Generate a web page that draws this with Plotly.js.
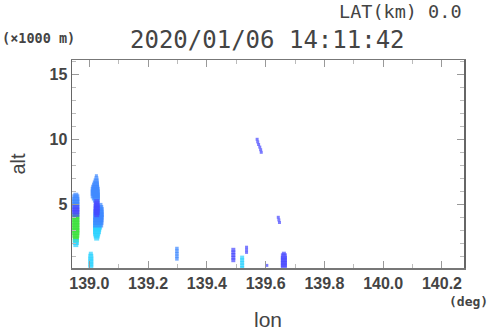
<!DOCTYPE html>
<html>
<head>
<meta charset="utf-8">
<script src="https://cdn.plot.ly/plotly-3.0.1.min.js"></script>
<style>html,body{margin:0;padding:0;background:#fff;}#chart{width:490px;height:331px;}</style>
</head>
<body>
<div id="chart"></div>
<script>
// Echo cells: longitude (deg), altitude (x1000 m), cell width (px)
const greenLon = [138.954, 138.954, 138.954, 138.954, 138.954, 138.954, 138.954, 138.954, 138.954, 138.954];
const greenAlt = [4.1, 3.9, 3.7, 3.5, 3.3, 3.1, 2.9, 2.7, 2.5, 2.3];
const greenSize = [7, 7, 7, 7, 7, 7, 7, 7, 6, 6];

const cyanLon = [138.954, 138.954,
  139.028, 139.027, 139.026, 139.025, 139.025, 139.025,
  139.005, 139.005, 139.005, 139.005, 139.005, 139.005,
  139.520, 139.520, 139.520, 139.520, 139.520];
const cyanAlt = [2.1, 1.9,
  3.4, 3.2, 3.0, 2.8, 2.6, 2.4,
  0.2, 0.4, 0.6, 0.8, 1.0, 1.2,
  0.1, 0.3, 0.5, 0.7, 0.9];
const cyanSize = [6, 5,
  9, 8, 8, 7, 6, 5,
  5, 5, 5, 5, 5, 4,
  4, 4, 4, 4, 4];

const midLon = [138.954, 138.954, 138.954, 138.954, 138.954,
  139.024, 139.024, 139.023, 139.022, 139.021, 139.020, 139.020, 139.020, 139.022, 139.024,
  139.031, 139.032, 139.032, 139.031,
  139.031, 139.031, 139.030,
  139.298, 139.298, 139.298, 139.298, 139.298];
const midAlt = [5.7, 5.5, 5.3, 5.1, 4.9,
  7.2, 7.0, 6.8, 6.6, 6.4, 6.2, 6.0, 5.8, 5.6, 5.4,
  4.8, 4.6, 4.4, 4.2,
  4.0, 3.8, 3.6,
  0.8, 1.0, 1.2, 1.4, 1.6];
const midSize = [5, 7, 7, 7, 7,
  3, 4, 5, 6, 7, 8, 9, 9, 8, 7,
  8, 9, 10, 10,
  10, 10, 10,
  3.5, 3.5, 3.5, 3.5, 3.5];

const blueLon = [138.954, 138.954, 138.954,
  139.025, 139.025, 139.025, 139.025, 139.025, 139.025,
  139.490, 139.490, 139.490, 139.490, 139.490,
  139.535, 139.535, 139.535,
  139.604,
  139.662, 139.662, 139.662, 139.662, 139.662, 139.662,
  139.571, 139.573, 139.576, 139.580, 139.583, 139.585,
  139.643, 139.645, 139.647];
const blueAlt = [4.7, 4.5, 4.3,
  5.2, 5.0, 4.8, 4.6, 4.4, 4.2,
  0.7, 0.9, 1.1, 1.3, 1.5,
  1.3, 1.5, 1.7,
  0.3,
  0.2, 0.4, 0.6, 0.8, 1.0, 1.2,
  10.0, 9.8, 9.6, 9.4, 9.2, 9.0,
  4.0, 3.8, 3.6];
const blueSize = [7, 7, 7,
  5, 6, 6, 6, 6, 5,
  4, 4, 4, 4, 4,
  3, 3, 3,
  3,
  6, 6, 6, 6, 6, 4,
  3, 3, 3, 3, 3, 3,
  3, 3, 3];

const xTickVals = [139.0, 139.2, 139.4, 139.6, 139.8, 140.0, 140.2];
const yTickVals = [5, 10, 15];

const titleText = "2020/01/06 14:11:42";
const latText = "LAT(km) 0.0";
const yUnitText = "(×1000 m)";
const xUnitText = "(deg)";

function tr(lon, alt, size, color) {
  return {type: 'scatter', mode: 'markers', x: lon, y: alt, hoverinfo: 'skip',
    marker: {symbol: 'square', size: size, color: color, line: {width: 0}}};
}
const data = [
  tr(greenLon, greenAlt, greenSize, 'rgb(60,225,60)'),
  tr(cyanLon, cyanAlt, cyanSize, 'rgb(40,210,255)'),
  tr(midLon, midAlt, midSize, 'rgb(60,135,255)'),
  tr(blueLon, blueAlt, blueSize, 'rgb(70,70,255)')
];

const tickFont = {family: 'Liberation Sans, Arial, sans-serif', size: 16, color: '#444', weight: 'bold'};
const layout = {
  width: 490, height: 331,
  margin: {l: 72, r: 26, t: 60, b: 63},
  paper_bgcolor: '#fff', plot_bgcolor: '#fff',
  showlegend: false,
  xaxis: {
    range: [138.941, 140.275], tickvals: xTickVals, tickformat: '.1f',
    ticks: 'inside', ticklen: 7, tickwidth: 1, tickcolor: '#999',
    showline: true, linecolor: '#777', linewidth: 1.5, mirror: 'ticks',
    showgrid: false, zeroline: false, tickfont: tickFont,
    minor: {dtick: 0.1, tick0: 139.0, ticks: 'inside', ticklen: 4, tickcolor: '#bbb', showgrid: false},
    title: {text: 'lon', font: {family: 'Liberation Sans, Arial, sans-serif', size: 21, color: '#444'}, standoff: 22}
  },
  yaxis: {
    range: [0.1, 16.1], tickvals: yTickVals,
    ticks: 'inside', ticklen: 7, tickwidth: 1, tickcolor: '#999',
    showline: true, linecolor: '#666', linewidth: 1.5, mirror: 'ticks',
    showgrid: false, zeroline: false, tickfont: tickFont,
    minor: {dtick: 1, tick0: 0, ticks: 'inside', ticklen: 4, tickcolor: '#bbb', showgrid: false},
    title: {text: 'alt', font: {family: 'Liberation Sans, Arial, sans-serif', size: 20, color: '#444'}, standoff: 18}
  },
  annotations: [
    {text: titleText, xref: 'paper', yref: 'paper', x: (267.5 - 72) / 392, y: (268 - 40) / 208,
      xanchor: 'center', yanchor: 'middle', showarrow: false,
      font: {family: 'DejaVu Sans Mono, monospace', size: 24, color: '#444'}},
    {text: latText, xref: 'paper', yref: 'paper', x: (464 - 72) / 392, y: (268 - 12) / 208,
      xanchor: 'right', yanchor: 'middle', showarrow: false,
      font: {family: 'DejaVu Sans Mono, monospace', size: 18.5, color: '#444'}},
    {text: '<b>' + yUnitText + '</b>', xref: 'paper', yref: 'paper', x: (0 - 72) / 392, y: (268 - 38) / 208,
      xanchor: 'left', yanchor: 'middle', showarrow: false,
      font: {family: 'DejaVu Sans Mono, monospace', size: 13.5, color: '#444'}},
    {text: '<b>' + xUnitText + '</b>', xref: 'paper', yref: 'paper', x: (490 - 72) / 392, y: (268 - 301) / 208,
      xanchor: 'right', yanchor: 'middle', showarrow: false,
      font: {family: 'DejaVu Sans Mono, monospace', size: 13, color: '#444'}}
  ]
};
Plotly.newPlot('chart', data, layout, {staticPlot: true, displayModeBar: false});
</script>
</body>
</html>
